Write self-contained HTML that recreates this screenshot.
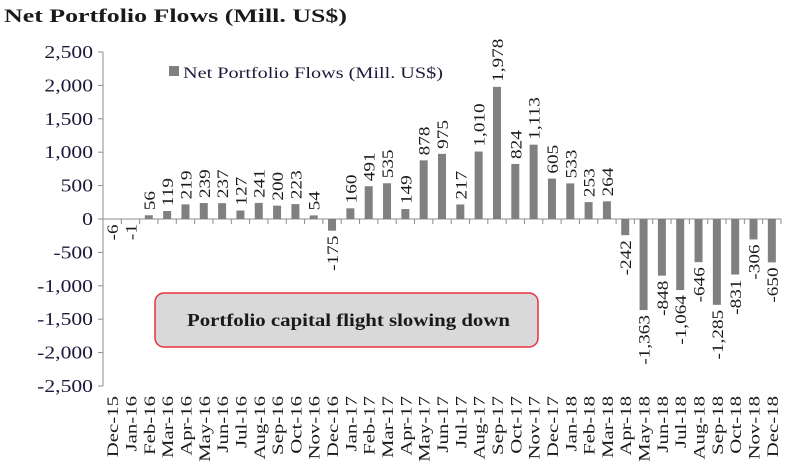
<!DOCTYPE html>
<html><head><meta charset="utf-8"><style>
html,body{margin:0;padding:0;background:#fff;}
svg{display:block;font-family:"Liberation Serif",serif;}
</style></head><body>
<svg width="800" height="474" viewBox="0 0 800 474">
<text x="4" y="22" font-size="19" font-weight="bold" fill="#1a1a1a" textLength="343" lengthAdjust="spacingAndGlyphs">Net Portfolio Flows (Mill. US$)</text>
<g>
<rect x="169" y="66" width="10" height="10" fill="#808080"></rect>
<text x="183" y="78" font-size="16" fill="#1a1a3a" textLength="260" lengthAdjust="spacingAndGlyphs">Net Portfolio Flows (Mill. US$)</text>
</g>
<g id="axes"></g>
<g id="bars"></g>
<g id="labels"></g>
<g>
<rect x="155" y="293" width="383" height="54" rx="9" fill="#d9d9d9" stroke="#e8323c" stroke-width="1.5"></rect>
<text x="187" y="326" font-size="18" font-weight="bold" fill="#1a1a1a" textLength="323" lengthAdjust="spacingAndGlyphs">Portfolio capital flight slowing down</text>
</g>
</svg>
<script>
const categories = ["Dec-15","Jan-16","Feb-16","Mar-16","Apr-16","May-16","Jun-16","Jul-16","Aug-16","Sep-16","Oct-16","Nov-16","Dec-16","Jan-17","Feb-17","Mar-17","Apr-17","May-17","Jun-17","Jul-17","Aug-17","Sep-17","Oct-17","Nov-17","Dec-17","Jan-18","Feb-18","Mar-18","Apr-18","May-18","Jun-18","Jul-18","Aug-18","Sep-18","Oct-18","Nov-18","Dec-18"];
const values = [-6,-1,56,119,219,239,237,127,241,200,223,54,-175,160,491,535,149,878,975,217,1010,1978,824,1113,605,533,253,264,-242,-1363,-848,-1064,-646,-1285,-831,-306,-650];
const yTicks = [2500,2000,1500,1000,500,0,-500,-1000,-1500,-2000,-2500];

const NS="http://www.w3.org/2000/svg";
const x0=103,x1=781,yTop=52,yBot=386,yMin=-2500,yMax=2500;
const step=(x1-x0)/categories.length;
function yScale(v){return yTop+(yMax-v)/(yMax-yMin)*(yBot-yTop);}
function xCenter(i){return x0+step*(i+0.5);}
function mk(tag,attrs,parent){const e=document.createElementNS(NS,tag);for(const k in attrs)e.setAttribute(k,attrs[k]);parent.appendChild(e);return e;}
function stretch(el,f){try{const l=el.getComputedTextLength();el.setAttribute("textLength",l*f);el.setAttribute("lengthAdjust","spacingAndGlyphs");}catch(e){}}
function fmt(v){return (v<0?"-":"")+Math.abs(v).toLocaleString("en-US");}
const axes=document.getElementById("axes"),bars=document.getElementById("bars"),labels=document.getElementById("labels");
const y0=yScale(0);
const ya=mk("line",{x1:x0,y1:yTop,x2:x0,y2:yBot,stroke:"#8c8c8c","stroke-width":1},axes);


yTicks.forEach(t=>{
  const y=yScale(t);
  const tk=mk("line",{x1:x0-5,y1:y,x2:x0,y2:y,stroke:"#8c8c8c"},axes);
  
  
  const tx=mk("text",{x:x0-10,y:y+6,"font-size":18,"text-anchor":"end",fill:"#1a1a3a"},axes);
  tx.textContent=fmt(t);
  
  
  stretch(tx,1.2);
});
const xa=mk("line",{x1:x0,y1:y0,x2:x1,y2:y0,stroke:"#8c8c8c"},axes);


for(let i=0;i<=categories.length;i++){
  const x=x0+step*i;
  const tk=mk("line",{x1:x,y1:y0,x2:x,y2:y0+5,stroke:"#8c8c8c"},axes);
  
  
}
categories.forEach((c,i)=>{
  const x=xCenter(i)+6,y=396;
  const t=mk("text",{x:x,y:y,"font-size":16,"text-anchor":"end",fill:"#1a1a1a",transform:`rotate(-90 ${x} ${y})`},labels);
  t.textContent=c;
  
  
  stretch(t,1.3);
});
values.forEach((v,i)=>{
  const yv=yScale(v),w=8;
  const r=mk("rect",{x:xCenter(i)-w/2,y:Math.min(yv,y0),width:w,height:Math.abs(yv-y0),fill:"#808080"},bars);
  
  
  const x=xCenter(i)+6;
  let y,anchor;
  if(v>=0){y=yv-5;anchor="start";}else{y=yv+5;anchor="end";}
  const t=mk("text",{x:x,y:y,"font-size":16,"text-anchor":anchor,fill:"#1a1a1a",transform:`rotate(-90 ${x} ${y})`},labels);
  t.textContent=fmt(v);
  
  
  stretch(t,1.2);
});
</script>
</body></html>
